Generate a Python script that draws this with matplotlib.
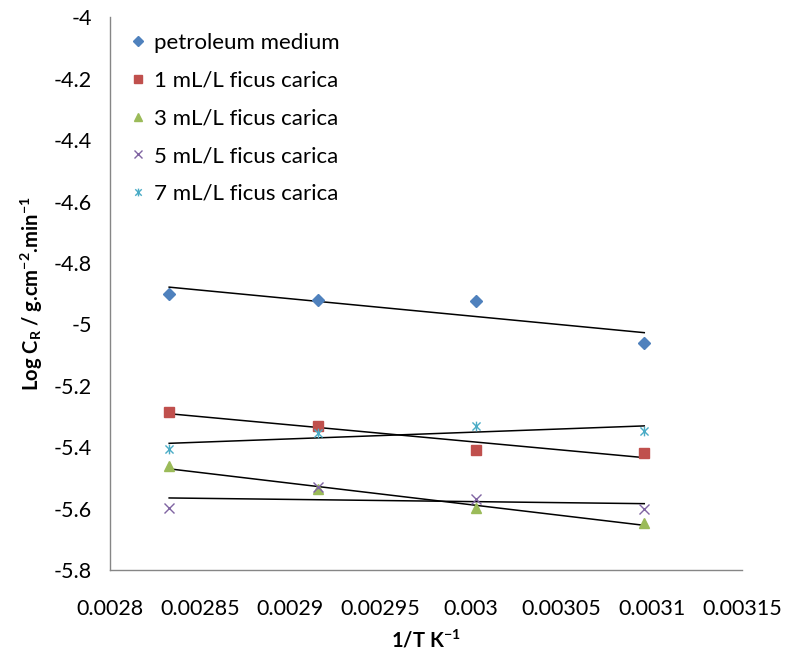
import numpy as np
import matplotlib
matplotlib.use("Agg")
import matplotlib.pyplot as plt
from matplotlib.path import Path

plt.rcParams['font.family'] = ['Lato', 'DejaVu Sans']
plt.rcParams['axes.unicode_minus'] = False
plt.rcParams['mathtext.fontset'] = 'custom'
plt.rcParams['mathtext.rm'] = 'Lato:bold'
plt.rcParams['mathtext.bf'] = 'Lato:bold'
plt.rcParams['mathtext.it'] = 'Lato:bold'

x = [1/353, 1/343, 1/333, 1/323]
series_names = ["petroleum medium", "1 mL/L ficus carica", "3 mL/L ficus carica",
                "5 mL/L ficus carica", "7 mL/L ficus carica"]
petroleum = [-4.901, -4.919, -4.923, -5.062]
ml1 = [-5.285, -5.330, -5.410, -5.418]
ml3 = [-5.461, -5.537, -5.597, -5.646]
ml5 = [-5.597, -5.528, -5.569, -5.602]
ml7 = [-5.404, -5.354, -5.332, -5.347]

xticks = [0.0028, 0.00285, 0.0029, 0.00295, 0.003, 0.00305, 0.0031, 0.00315]
xtick_labels = ["0.0028", "0.00285", "0.0029", "0.00295", "0.003", "0.00305", "0.0031", "0.00315"]
yticks = [-5.8, -5.6, -5.4, -5.2, -5.0, -4.8, -4.6, -4.4, -4.2, -4.0]
ytick_labels = ["-5.8", "-5.6", "-5.4", "-5.2", "-5", "-4.8", "-4.6", "-4.4", "-4.2", "-4"]

star = Path([(-1, -1), (1, 1), (-1, 1), (1, -1), (0, -1.2), (0, 1.2)],
            [Path.MOVETO, Path.LINETO, Path.MOVETO, Path.LINETO, Path.MOVETO, Path.LINETO])

styles = [
    dict(marker='D', color='#4F81BD', ms=6, mec='#4F81BD'),
    dict(marker='s', color='#C0504D', ms=7, mec='#C0504D'),
    dict(marker='^', color='#9BBB59', ms=7, mec='#9BBB59'),
    dict(marker='x', color='#8064A2', ms=7, mew=1.0),
    dict(marker=star, color='#4BACC6', ms=7, mew=1.0),
]

fig = plt.figure(figsize=(7.9, 6.63), dpi=100)
ax = fig.add_axes([0.139, 0.140, 0.800, 0.834])

xa = np.array(x)
for name, ys, st in zip(series_names, [petroleum, ml1, ml3, ml5, ml7], styles):
    ya = np.array(ys)
    ax.plot(xa, ya, linestyle='none', label=name, **st)
    m, b = np.polyfit(xa, ya, 1)
    ax.plot(xa[[0, -1]], m * xa[[0, -1]] + b, color='black', lw=1.1, zorder=1)

ax.set_xlim(0.0028, 0.00315)
ax.set_ylim(-5.8, -4.0)
ax.set_xticks(xticks)
ax.set_xticklabels(xtick_labels)
ax.set_yticks(yticks)
ax.set_yticklabels(ytick_labels)
ax.tick_params(axis='both', length=0, labelsize=15.5, colors='black')
ax.tick_params(axis='x', pad=21)
ax.tick_params(axis='y', pad=13)
for s in ['top', 'right']:
    ax.spines[s].set_visible(False)
for s in ['left', 'bottom']:
    ax.spines[s].set_color('#868686')
    ax.spines[s].set_linewidth(1.0)

ax.set_xlabel(r"1/T K$^{-1}$", fontsize=14.5, fontweight='bold', labelpad=7)
ax.set_ylabel(r"Log C$_{\mathrm{R}}$ / g.cm$^{-2}$.min$^{-1}$",
              fontsize=14.5, fontweight='bold', labelpad=6)

leg = ax.legend(loc='upper left', bbox_to_anchor=(0.01, 1.0), frameon=False,
                fontsize=16, handlelength=0.6, handletextpad=0.4, labelspacing=0.8,
                markerscale=0.8, borderaxespad=0.3)

fig.savefig("out.png", dpi=100)
